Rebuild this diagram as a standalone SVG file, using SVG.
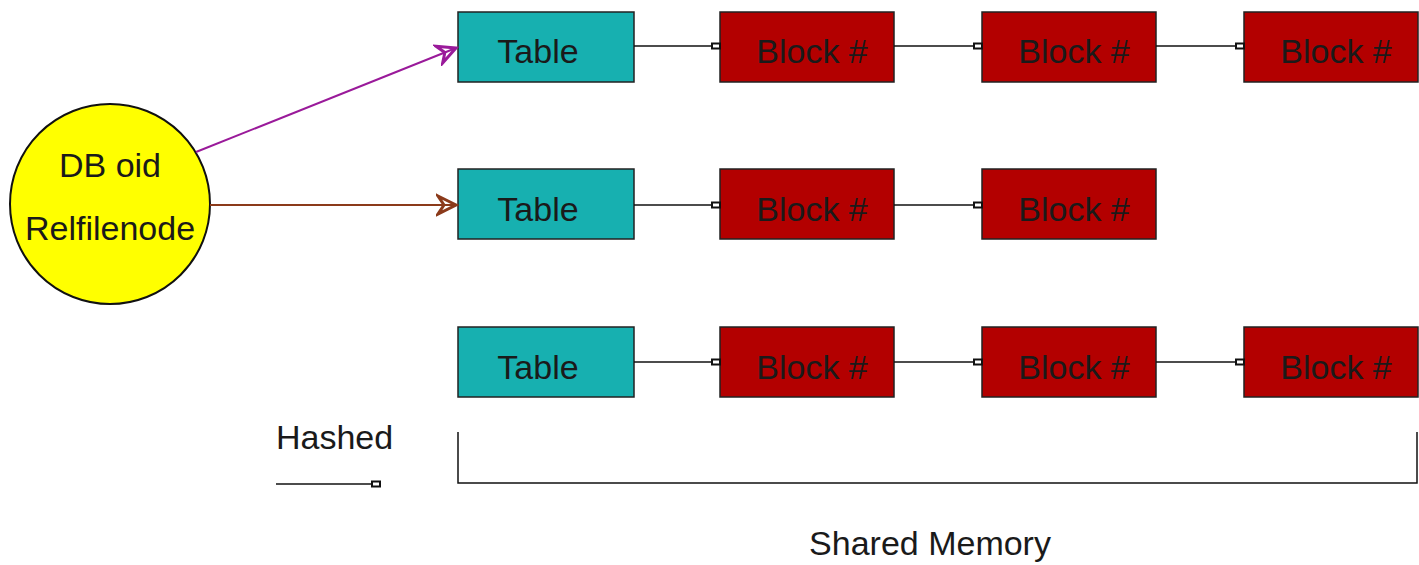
<svg xmlns="http://www.w3.org/2000/svg" width="1419" height="565" viewBox="0 0 1419 565">
<style>
text{font-family:"Liberation Sans",Arial,sans-serif;font-size:34px;fill:#1a1a1a}
.t{fill:#17b0b0;stroke:#222;stroke-width:1.5}
.b{fill:#b30000;stroke:#222;stroke-width:1.5}
.c{stroke:#111;stroke-width:1.5;fill:none}
</style>
<defs>
<marker id="sq" markerWidth="10" markerHeight="8" refX="9" refY="4" orient="auto" markerUnits="userSpaceOnUse">
<path d="M1,1.5 H9 V6.5 H1 Z" fill="#fff" stroke="#111" stroke-width="2"/>
</marker>
<marker id="ap" markerWidth="24" markerHeight="24" refX="20" refY="12" orient="auto" markerUnits="userSpaceOnUse">
<path d="M2,3 L20,12 L2,21 L8,12 Z" fill="none" stroke="#9a1a9a" stroke-width="3"/>
</marker>
<marker id="ab" markerWidth="24" markerHeight="24" refX="20" refY="12" orient="auto" markerUnits="userSpaceOnUse">
<path d="M2,3 L20,12 L2,21 L8,12 Z" fill="none" stroke="#8b3a1a" stroke-width="3"/>
</marker>
</defs>
<g id="circle"><circle cx="110" cy="204" r="100" fill="#ffff00" stroke="#111" stroke-width="2"/>
<text x="110" y="177" text-anchor="middle">DB oid</text>
<text x="110" y="240" text-anchor="middle">Relfilenode</text></g>
<g id="r1t"><rect class="t" x="458" y="12" width="176" height="70"/><text x="538" y="63" text-anchor="middle">Table</text></g>
<g id="r1b1"><rect class="b" x="720" y="12" width="174" height="70"/><text x="812" y="63" text-anchor="middle">Block #</text></g>
<g id="r1b2"><rect class="b" x="982" y="12" width="174" height="70"/><text x="1074" y="63" text-anchor="middle">Block #</text></g>
<g id="r1b3"><rect class="b" x="1244" y="12" width="174" height="70"/><text x="1336" y="63" text-anchor="middle">Block #</text></g>
<g id="r2t"><rect class="t" x="458" y="169" width="176" height="70"/><text x="538" y="221" text-anchor="middle">Table</text></g>
<g id="r2b1"><rect class="b" x="720" y="169" width="174" height="70"/><text x="812" y="221" text-anchor="middle">Block #</text></g>
<g id="r2b2"><rect class="b" x="982" y="169" width="174" height="70"/><text x="1074" y="221" text-anchor="middle">Block #</text></g>
<g id="r3t"><rect class="t" x="458" y="327" width="176" height="70"/><text x="538" y="379" text-anchor="middle">Table</text></g>
<g id="r3b1"><rect class="b" x="720" y="327" width="174" height="70"/><text x="812" y="379" text-anchor="middle">Block #</text></g>
<g id="r3b2"><rect class="b" x="982" y="327" width="174" height="70"/><text x="1074" y="379" text-anchor="middle">Block #</text></g>
<g id="r3b3"><rect class="b" x="1244" y="327" width="174" height="70"/><text x="1336" y="379" text-anchor="middle">Block #</text></g>
<g id="legend"><text x="276" y="449">Hashed</text>
<line class="c" x1="276" y1="484" x2="380" y2="484" marker-end="url(#sq)"/></g>
<g id="shared"><path class="c" d="M458,432 V483 H1417 V432"/>
<text x="930" y="555" text-anchor="middle">Shared Memory</text></g>
<g id="connectors">
<line x1="196" y1="152" x2="456" y2="48" stroke="#9a1a9a" stroke-width="2" marker-end="url(#ap)"/>
<line x1="210" y1="205" x2="456" y2="205" stroke="#8b3a1a" stroke-width="2" marker-end="url(#ab)"/>
<line class="c" x1="634" y1="46" x2="720" y2="46" marker-end="url(#sq)"/>
<line class="c" x1="894" y1="46" x2="982" y2="46" marker-end="url(#sq)"/>
<line class="c" x1="1156" y1="46" x2="1244" y2="46" marker-end="url(#sq)"/>
<line class="c" x1="634" y1="205" x2="720" y2="205" marker-end="url(#sq)"/>
<line class="c" x1="894" y1="205" x2="982" y2="205" marker-end="url(#sq)"/>
<line class="c" x1="634" y1="362" x2="720" y2="362" marker-end="url(#sq)"/>
<line class="c" x1="894" y1="362" x2="982" y2="362" marker-end="url(#sq)"/>
<line class="c" x1="1156" y1="362" x2="1244" y2="362" marker-end="url(#sq)"/>
</g>
</svg>
